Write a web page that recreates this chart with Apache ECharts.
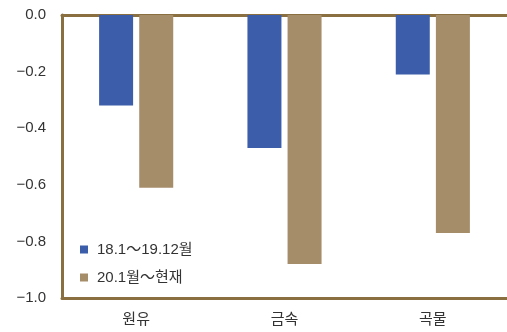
<!DOCTYPE html>
<html><head><meta charset="utf-8">
<script src="https://cdn.jsdelivr.net/npm/echarts@6/dist/echarts.min.js"></script>
<style>html,body{margin:0;padding:0;background:#fff}#c{width:507px;height:332px}</style>
</head><body><div id="c"></div>
<script>
const categories = ['원유', '금속', '곡물'];
const seriesNames = ['18.1～19.12월', '20.1월～현재'];
const series1 = [-0.32, -0.47, -0.21];
const series2 = [-0.61, -0.88, -0.77];
const yTicks = [0, -0.2, -0.4, -0.6, -0.8, -1.0];

const font = "'Liberation Sans', 'Noto Sans CJK KR', sans-serif";
const frame = '#8a6f40';
const chart = echarts.init(document.getElementById('c'));
chart.setOption({
  animation: false,
  grid: { left: 62, right: -2, top: 15, bottom: 34 },
  legend: {
    orient: 'vertical', left: 75, top: 237, itemWidth: 8, itemHeight: 8, itemGap: 13,
    icon: 'rect',
    textStyle: { fontFamily: font, fontSize: 15, color: '#333', padding: [0, 0, 0, 4] },
    data: seriesNames
  },
  xAxis: [{
    type: 'category', data: categories, position: 'bottom',
    axisLine: { show: true, onZero: false, lineStyle: { color: frame, width: 3 } }, axisTick: { show: false },
    axisLabel: { fontFamily: font, fontSize: 15, color: '#333', margin: 14 }
  }, {
    type: 'category', data: categories, position: 'top',
    axisLine: { show: true, onZero: false, lineStyle: { color: frame, width: 3 } }, axisTick: { show: false },
    axisLabel: { show: false }
  }],
  yAxis: {
    type: 'value', min: -1.0, max: 0, interval: 0.2,
    axisLine: { show: true, onZero: false, lineStyle: { color: frame, width: 3 } }, axisTick: { show: false }, splitLine: { show: false },
    axisLabel: { fontFamily: font, fontSize: 15, color: '#333', margin: 16,
      formatter: v => { const s = Math.abs(v).toFixed(1); return v < -1e-9 ? '\u2212' + s : s; } }
  },
  series: [
    { name: seriesNames[0], type: 'bar', data: series1, barWidth: 34, barGap: '18%', itemStyle: { color: '#3b5daa' } },
    { name: seriesNames[1], type: 'bar', data: series2, barWidth: 34, itemStyle: { color: '#a68d6a' } }
  ]
});
</script></body></html>
